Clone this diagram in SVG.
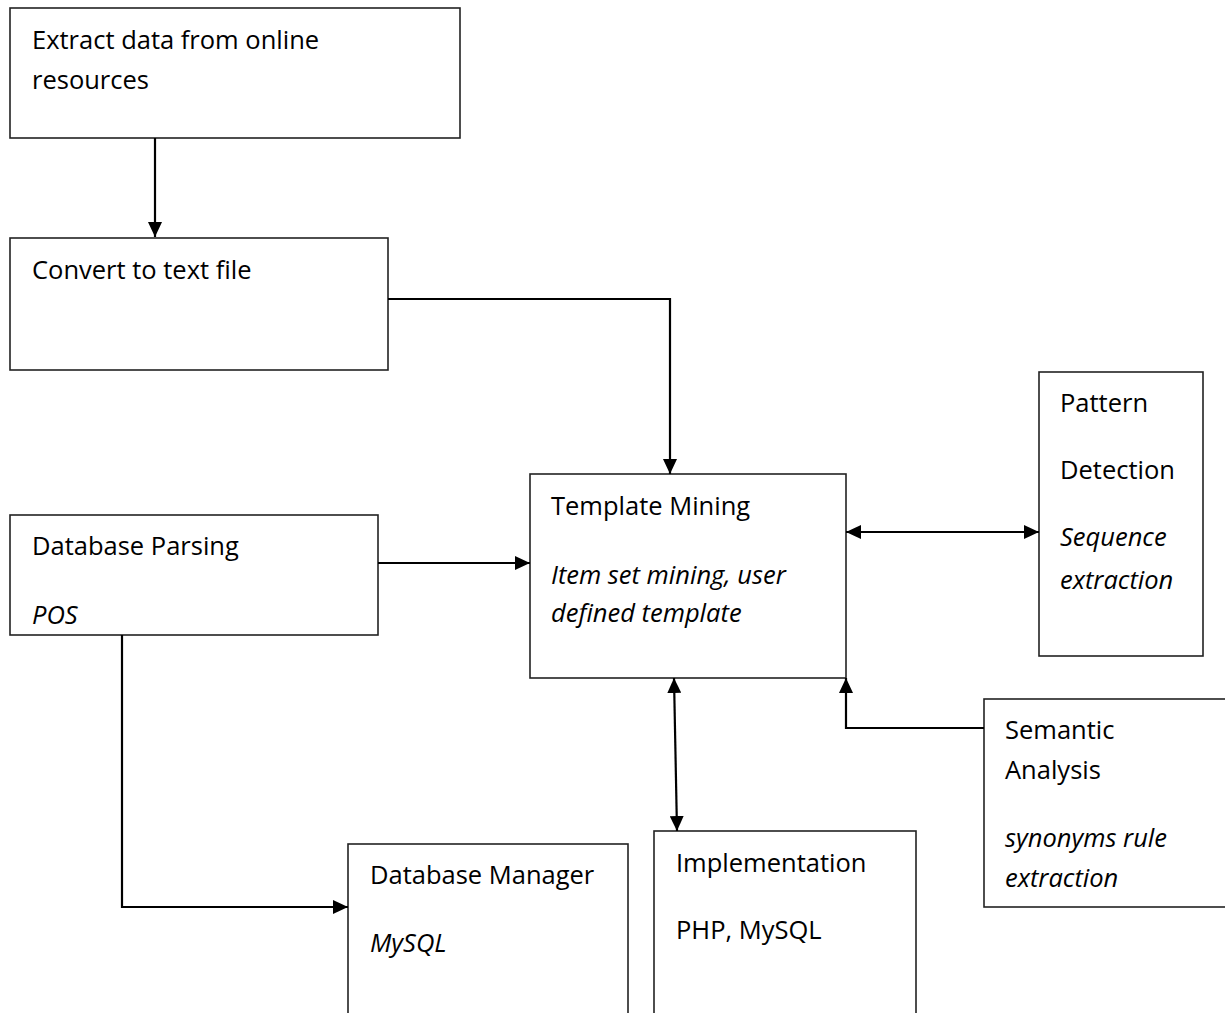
<svg xmlns="http://www.w3.org/2000/svg" width="1225" height="1013" viewBox="0 0 1225 1013">
<style>
.box{fill:#fff;stroke:#222;stroke-width:1.6}
.t{font-family:"Open Sans","Liberation Sans",sans-serif;font-size:25.5px;fill:#000}
.i{font-style:italic}
.c{fill:none;stroke:#000;stroke-width:2.2}
</style>
<defs>
<marker id="ah" viewBox="0 0 15 14" refX="15" refY="7" markerWidth="15" markerHeight="14" markerUnits="userSpaceOnUse" orient="auto-start-reverse">
<path d="M0,0 L15,7 L0,14 Z" fill="#000"/>
</marker>
</defs>
<rect width="1225" height="1013" fill="#fff"/>
<g id="n-extract"><rect class="box" x="10" y="8" width="450" height="130"/>
<text class="t" x="32" y="49">Extract data from online</text>
<text class="t" x="32" y="89">resources</text></g>
<g id="n-convert"><rect class="box" x="10" y="238" width="378" height="132"/>
<text class="t" x="32" y="279">Convert to text file</text></g>
<g id="n-parsing"><rect class="box" x="10" y="515" width="368" height="120"/>
<text class="t" x="32" y="555">Database Parsing</text>
<text class="t i" x="32" y="624">POS</text></g>
<g id="n-template"><rect class="box" x="530" y="474" width="316" height="204"/>
<text class="t" x="551" y="515">Template Mining</text>
<text class="t i" x="551" y="584">Item set mining, user</text>
<text class="t i" x="551" y="622">defined template</text></g>
<g id="n-pattern"><rect class="box" x="1039" y="372" width="164" height="284"/>
<text class="t" x="1060" y="412">Pattern</text>
<text class="t" x="1060" y="479">Detection</text>
<text class="t i" x="1060" y="546">Sequence</text>
<text class="t i" x="1060" y="589">extraction</text></g>
<g id="n-semantic"><rect class="box" x="984" y="699" width="245" height="208"/>
<text class="t" x="1005" y="739">Semantic</text>
<text class="t" x="1005" y="779">Analysis</text>
<text class="t i" x="1005" y="847">synonyms rule</text>
<text class="t i" x="1005" y="887">extraction</text></g>
<g id="n-dbmanager"><rect class="box" x="348" y="844" width="280" height="170"/>
<text class="t" x="370" y="884">Database Manager</text>
<text class="t i" x="370" y="952">MySQL</text></g>
<g id="n-impl"><rect class="box" x="654" y="831" width="262" height="183"/>
<text class="t" x="676" y="872">Implementation</text>
<text class="t" x="676" y="939">PHP, MySQL</text></g>
<g id="connectors">
<path class="c" d="M155,138 V237" marker-end="url(#ah)"/>
<path class="c" d="M388,299 H670 V474" marker-end="url(#ah)"/>
<path class="c" d="M378,563 H530" marker-end="url(#ah)"/>
<path class="c" d="M846,532 H1039" marker-start="url(#ah)" marker-end="url(#ah)"/>
<path class="c" d="M674,678 L677,831" marker-start="url(#ah)" marker-end="url(#ah)"/>
<path class="c" d="M984,728 H846 V678" marker-end="url(#ah)"/>
<path class="c" d="M122,635 V907 H348" marker-end="url(#ah)"/>
</g>
</svg>
